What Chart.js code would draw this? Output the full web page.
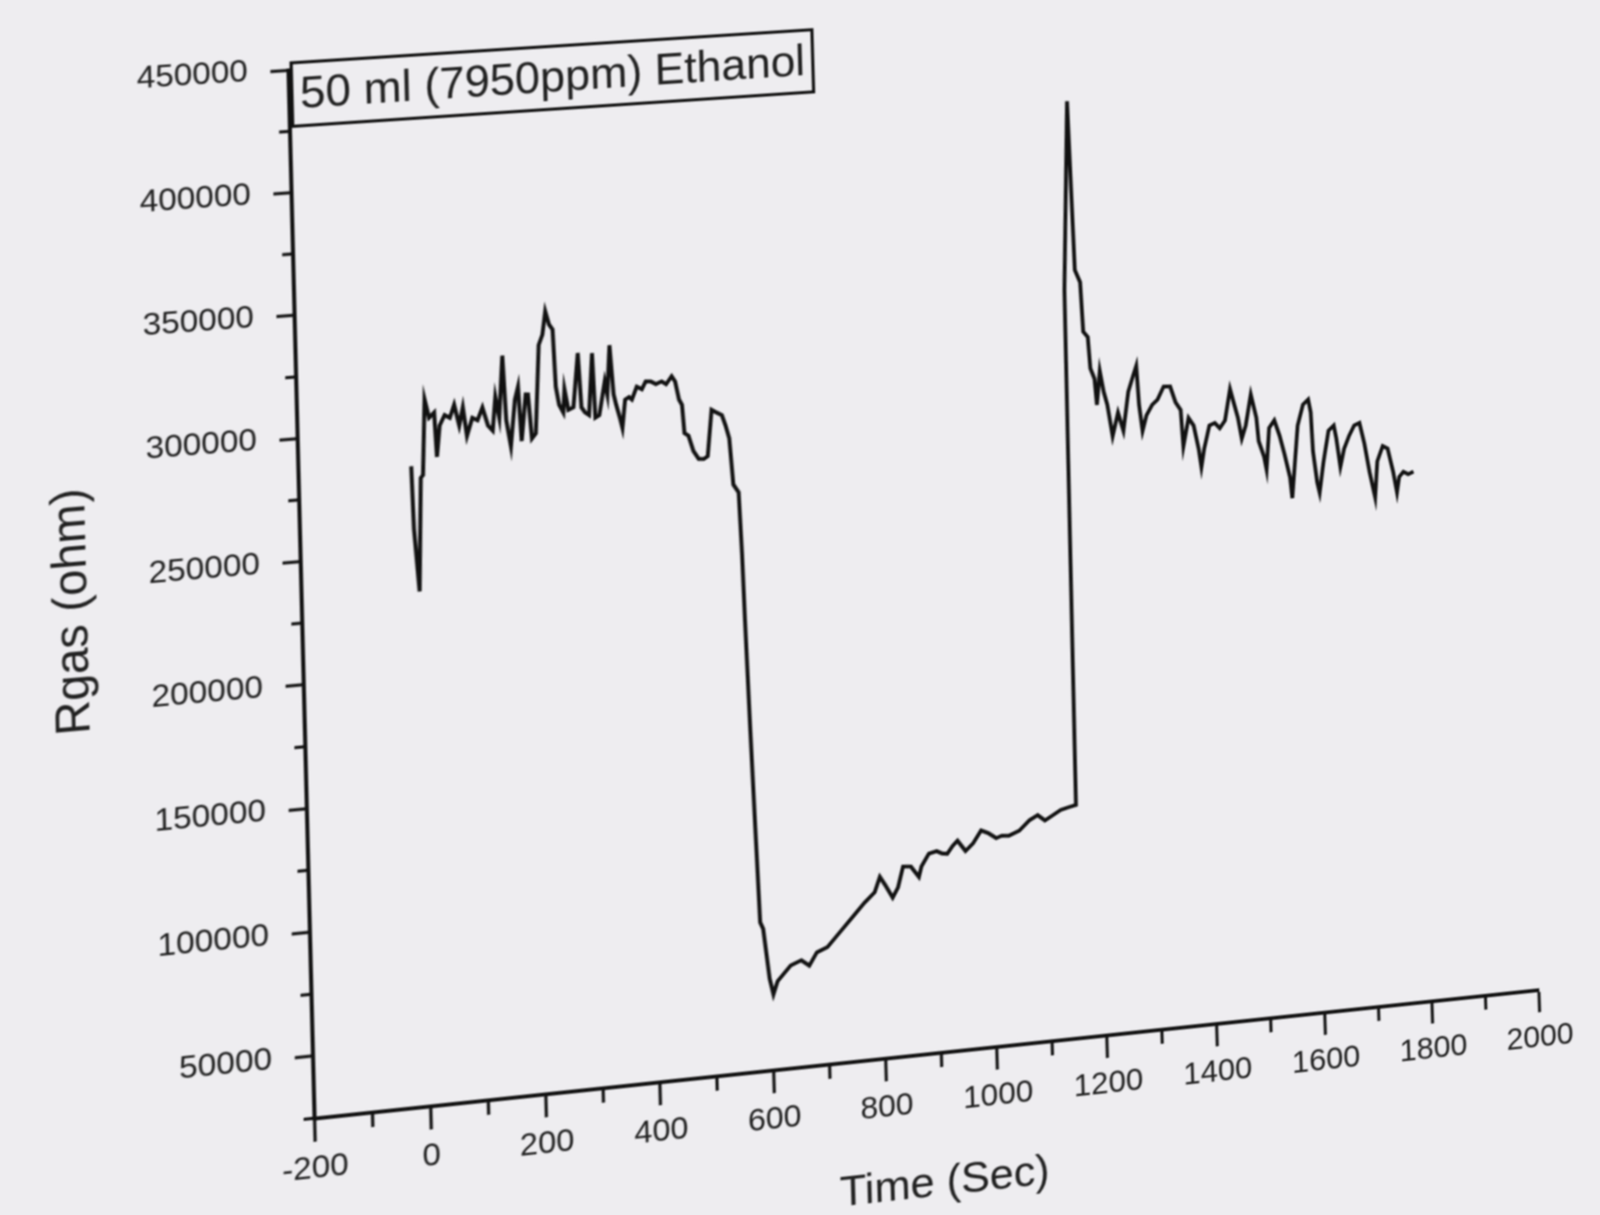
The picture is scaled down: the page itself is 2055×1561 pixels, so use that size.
<!DOCTYPE html>
<html>
<head>
<meta charset="utf-8">
<title>Rgas vs Time - 50 ml (7950ppm) Ethanol</title>
<script src="https://cdn.jsdelivr.net/npm/chart.js@4.4.1/dist/chart.umd.min.js"></script>
<style>
  html, body { margin: 0; padding: 0; }
  body { width: 2055px; height: 1561px; overflow: hidden; background: #eeedf0; position: relative; }
  #plot { position: absolute; left: 0; top: 0; transform-origin: 0 0; filter: blur(0.8px); }
</style>
</head>
<body>
<canvas id="plot" width="2055" height="1800"></canvas>
<script>
// ---------------- data ----------------
const seriesLabel = "50 ml (7950ppm) Ethanol";
const xAxisTitle = "Time (Sec)";
const yAxisTitle = "Rgas (ohm)";

const timeSec = [
  -5, -3, 4, 11, 15, 21, 28, 37, 40, 46, 55, 64, 72, 80, 87, 93, 103, 112, 121, 130,
  138, 144, 150, 158, 162, 169, 178, 184, 188, 197, 201, 206, 213, 222, 229, 235, 241, 247, 250, 255,
  262, 265, 271, 280, 290, 294, 300, 307, 315, 318, 325, 336, 340, 346, 351, 355, 361, 365, 371, 378,
  383, 392, 401, 408, 417, 426, 436, 444, 454, 460, 466, 471, 474, 481, 489, 498, 507, 514, 523, 532,
  541, 547, 553, 558, 567, 570, 572, 576, 580, 584, 589, 598, 604, 612, 636, 655, 669, 683, 702, 722,
  746, 770, 789, 799, 808, 821, 831, 841, 855, 869, 874, 888, 902, 912, 921, 931, 940, 954, 968, 983,
  996, 1010, 1020, 1033, 1052, 1071, 1086, 1099, 1114, 1128, 1142, 1156, 1163, 1178, 1183, 1192, 1195, 1203, 1206, 1213,
  1216, 1223, 1229, 1235, 1243, 1254, 1263, 1274, 1285, 1290, 1293, 1298, 1306, 1317, 1327, 1339, 1351, 1360, 1369, 1372,
  1383, 1392, 1400, 1404, 1410, 1421, 1431, 1440, 1450, 1461, 1468, 1474, 1480, 1488, 1499, 1508, 1511, 1520, 1524, 1531,
  1541, 1550, 1558, 1567, 1570, 1577, 1584, 1595, 1605, 1609, 1611, 1617, 1621, 1630, 1641, 1651, 1655, 1661, 1669, 1679,
  1689, 1699, 1707, 1715, 1724, 1730, 1741, 1750, 1759, 1765, 1770, 1778, 1787, 1797
];

const rgasOhm = [
  285000, 259500, 233800, 280000, 281000, 311800, 304200, 306200, 288000, 300700, 304800, 303500, 308700, 300100, 307400, 295600, 302800, 301600, 306700, 299100,
  296900, 310600, 302000, 327300, 300700, 289900, 308900, 314100, 291700, 310700, 310600, 292400, 294400, 330500, 334600, 344100, 338600, 336400, 312900, 305400,
  302100, 311600, 303000, 303900, 326000, 303600, 301400, 300200, 325500, 298900, 299800, 313500, 308100, 328200, 307900, 303600, 298100, 293800, 305400, 306300,
  305200, 310300, 309100, 312200, 312000, 310800, 311700, 310400, 313500, 311200, 303700, 301400, 289700, 288500, 282000, 278600, 278400, 279400, 298400, 297100,
  295900, 291500, 286100, 266900, 263500, 237900, 210200, 165000, 125000, 86000, 83200, 62600, 56000, 61200, 67100, 68800, 66300, 71400, 73100, 78000,
  83900, 89800, 93700, 99900, 96400, 90800, 94800, 103200, 102900, 98300, 102500, 107500, 108200, 107000, 106700, 109700, 111700, 107100, 110000, 115000,
  113600, 111200, 112000, 111700, 113400, 117300, 119100, 116600, 118500, 120300, 121100, 121800, 337000, 416000, 345000, 339700, 318900, 316500, 303300, 298800,
  287800, 301900, 293100, 287500, 274200, 283900, 276100, 292300, 299700, 302900, 286500, 275400, 281800, 286000, 288000, 293300, 293100, 286300, 282900, 267500,
  279300, 275900, 265900, 258200, 265700, 275400, 276300, 273900, 277000, 290000, 283300, 277700, 268800, 274200, 287100, 277100, 267200, 260500, 254900, 272300,
  275400, 268700, 260800, 250800, 242000, 257200, 272400, 281000, 283000, 277500, 261000, 247800, 243300, 256300, 269200, 271200, 265700, 253500, 261000, 266300,
  270500, 271400, 262500, 250300, 239300, 254500, 260800, 259600, 249600, 240700, 247200, 249200, 248000, 248900
];

// axis ranges and tick steps
const xRange = [-200, 2000];
const xMajorStep = 200;
const xMinorStep = 100;
const yRange = [25000, 450000];
const yMajorStep = 50000;
const yMinorStep = 25000;

// ---------------- style / layout ----------------
const INK = '#111111';
const TEXT = '#202020';
const FONT = '"Liberation Sans", Arial, Helvetica, sans-serif';
// where the photographed plot frame lands in the page (TL, TR, BR, BL)
const PHOTO_QUAD = [[370, 90], [1934, -10], [1976, 1271.7], [403.5, 1436.7]];

Chart.defaults.font.family = FONT;
Chart.defaults.color = TEXT;

const minorTicks = {
  id: 'minorTicks',
  afterDraw(chart) {
    const { ctx, chartArea: a, scales: { x, y } } = chart;
    ctx.save();
    ctx.strokeStyle = INK;
    ctx.lineWidth = 4;
    ctx.beginPath();
    for (let v = yRange[0]; v <= yRange[1]; v += yMinorStep) {
      if (v % yMajorStep === 0) continue;
      const py = y.getPixelForValue(v);
      ctx.moveTo(a.left, py);
      ctx.lineTo(a.left - 13, py);
    }
    for (let t = xRange[0]; t <= xRange[1]; t += xMinorStep) {
      if (t % xMajorStep === 0) continue;
      const px = x.getPixelForValue(t);
      ctx.moveTo(px, a.bottom);
      ctx.lineTo(px, a.bottom + 19);
    }
    ctx.stroke();
    ctx.restore();
  }
};

const legendBox = {
  id: 'legendBox',
  afterDraw(chart, args, o) {
    const { ctx, chartArea: a } = chart;
    const text = chart.data.datasets[0].label;
    ctx.save();
    ctx.font = `${o.size}px ${FONT}`;
    const w = ctx.measureText(text).width + o.padX * 2;
    const x0 = a.left + o.dx, y0 = a.top + o.dy;
    ctx.lineWidth = o.border;
    ctx.strokeStyle = INK;
    ctx.strokeRect(x0, y0, w, o.height);
    ctx.fillStyle = TEXT;
    ctx.textBaseline = 'middle';
    ctx.textAlign = 'left';
    ctx.fillText(text, x0 + o.padX, y0 + o.height / 2 + 2);
    ctx.restore();
  }
};

const points = timeSec.map((t, i) => ({ x: t, y: rgasOhm[i] }));

const chart = new Chart(document.getElementById('plot'), {
  type: 'line',
  data: {
    datasets: [{
      label: seriesLabel,
      data: points,
      borderColor: INK,
      borderWidth: 5,
      pointRadius: 0,
      tension: 0,
      fill: false
    }]
  },
  options: {
    responsive: false,
    animation: false,
    devicePixelRatio: 1,
    layout: { padding: { left: 60, top: 90, right: 80, bottom: 160 } },
    plugins: {
      legend: { display: false },
      tooltip: { enabled: false },
      legendBox: { size: 57, padX: 10, dx: 4, dy: -9, height: 82, border: 4 }
    },
    scales: {
      x: {
        type: 'linear',
        min: xRange[0],
        max: xRange[1],
        afterFit(s) { s.height = 204; },
        ticks: {
          stepSize: xMajorStep,
          autoSkip: false,
          maxRotation: 0,
          padding: 10,
          color: TEXT,
          font: { size: 41 },
          callback: v => String(v)
        },
        grid: { drawOnChartArea: false, drawTicks: true, tickLength: 30, tickWidth: 4, tickColor: INK },
        border: { display: true, color: INK, width: 5 },
        title: { display: true, text: xAxisTitle, color: TEXT, font: { size: 56 }, padding: { top: 0, bottom: 0 } }
      },
      y: {
        type: 'linear',
        min: yRange[0],
        max: yRange[1],
        afterFit(s) { s.width = 328; },
        afterBuildTicks(s) {
          const major = [];
          for (let v = yMajorStep; v <= yRange[1]; v += yMajorStep) major.push({ value: v });
          s.ticks = major;
        },
        ticks: {
          stepSize: yMajorStep,
          autoSkip: false,
          padding: 28,
          color: TEXT,
          font: { size: 41 },
          callback: v => String(v)
        },
        grid: { drawOnChartArea: false, drawTicks: true, tickLength: 22, tickWidth: 4, tickColor: INK },
        border: { display: true, color: INK, width: 5 },
        title: { display: true, text: yAxisTitle, color: TEXT, font: { size: 60 }, padding: { top: 12, bottom: 0 } }
      }
    }
  },
  plugins: [minorTicks, legendBox]
});

// ---- photo perspective: map the chart area onto the photographed frame ----
function squareToQuad(q) {
  const [x0, y0] = q[0], [x1, y1] = q[1], [x2, y2] = q[2], [x3, y3] = q[3];
  const dx1 = x1 - x2, dx2 = x3 - x2, dx3 = x0 - x1 + x2 - x3;
  const dy1 = y1 - y2, dy2 = y3 - y2, dy3 = y0 - y1 + y2 - y3;
  const den = dx1 * dy2 - dx2 * dy1;
  const g = (dx3 * dy2 - dx2 * dy3) / den;
  const h = (dx1 * dy3 - dx3 * dy1) / den;
  return {
    a: x1 - x0 + g * x1, b: x3 - x0 + h * x3, c: x0,
    d: y1 - y0 + g * y1, e: y3 - y0 + h * y3, f: y0, g, h
  };
}
(function warp() {
  const A = chart.chartArea;
  const L = A.left, T = A.top, W = A.right - A.left, H = A.bottom - A.top;
  const s = squareToQuad(PHOTO_QUAD);
  const m11 = s.a / W, m12 = s.b / H, m13 = s.c - s.a * L / W - s.b * T / H;
  const m21 = s.d / W, m22 = s.e / H, m23 = s.f - s.d * L / W - s.e * T / H;
  const m31 = s.g / W, m32 = s.h / H, m33 = 1 - s.g * L / W - s.h * T / H;
  document.getElementById('plot').style.transform =
    `matrix3d(${m11},${m21},0,${m31},${m12},${m22},0,${m32},0,0,1,0,${m13},${m23},0,${m33})`;
})();
</script>
</body>
</html>
